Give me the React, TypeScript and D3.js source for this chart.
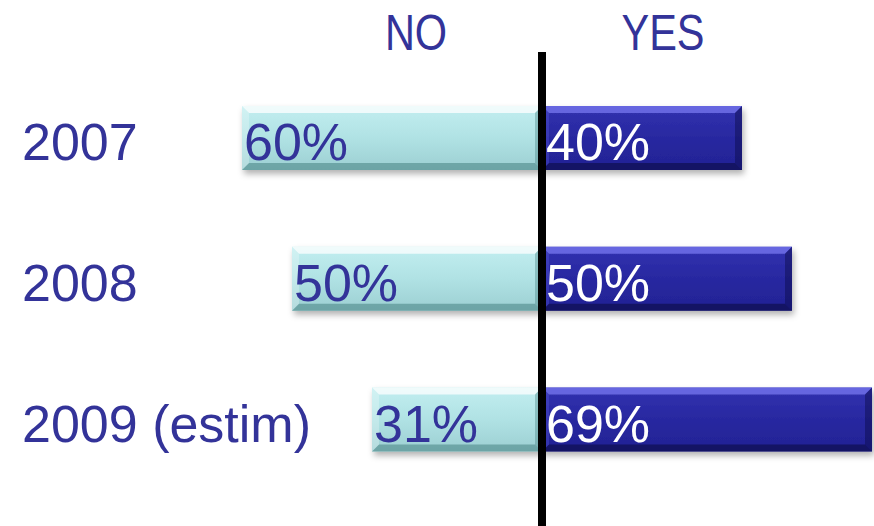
import React from "react";
import * as d3 from "d3";

const years = ["2007", "2008", "2009 (estim)"];
const noValues = [60, 50, 34];
const yesValues = [40, 50, 66];
const noLabels = ["60%", "50%", "31%"];
const yesLabels = ["40%", "50%", "69%"];
const headers = ["NO", "YES"];

const W = 874;
const H = 526;
const CX = 542;
const BAR_H = 64;
const TEXT = "#333399";

function Bevel({ x, w, y, h, kind }: { x: number; w: number; y: number; h: number; kind: "light" | "dark" }) {
  const b = 7;
  const light = kind === "light";
  const top = light ? "rgba(255,255,255,0.75)" : "rgba(120,120,240,0.75)";
  const bottom = light ? "rgba(70,130,130,0.55)" : "rgba(10,10,60,0.55)";
  const side = light ? "rgba(255,255,255,0.25)" : "rgba(90,90,220,0.35)";
  const sideR = light ? "rgba(60,120,120,0.35)" : "rgba(10,10,70,0.45)";
  return (
    <g>
      <rect x={x} y={y} width={w} height={h} fill={`url(#grad-${kind})`} filter="url(#shadow)" />
      <polygon points={`${x},${y} ${x + w},${y} ${x + w - b},${y + b} ${x + b},${y + b}`} fill={top} />
      <polygon points={`${x},${y + h} ${x + w},${y + h} ${x + w - b},${y + h - b} ${x + b},${y + h - b}`} fill={bottom} />
      <polygon points={`${x},${y} ${x + b},${y + b} ${x + b},${y + h - b} ${x},${y + h}`} fill={side} />
      <polygon points={`${x + w},${y} ${x + w - b},${y + b} ${x + w - b},${y + h - b} ${x + w},${y + h}`} fill={sideR} />
    </g>
  );
}

export default function App() {
  const len = d3.scaleLinear().domain([0, 100]).range([0, 500]);
  const yPos = d3.scalePoint<string>().domain(years).range([138, 419.5]);
  const font = "'Liberation Sans', Arial, sans-serif";

  return (
    <svg width={W} height={H} style={{ position: "absolute", left: 0, top: 0 }} fontFamily={font}>
      <defs>
        <linearGradient id="grad-light" x1="0" y1="0" x2="0" y2="1">
          <stop offset="0" stopColor="#c2eef0" />
          <stop offset="0.5" stopColor="#b0e2e4" />
          <stop offset="1" stopColor="#9ccfd2" />
        </linearGradient>
        <linearGradient id="grad-dark" x1="0" y1="0" x2="0" y2="1">
          <stop offset="0" stopColor="#3232b0" />
          <stop offset="0.5" stopColor="#2828a0" />
          <stop offset="1" stopColor="#222294" />
        </linearGradient>
        <filter id="shadow" x="-5%" y="-20%" width="110%" height="160%">
          <feDropShadow dx="2" dy="4" stdDeviation="3" floodColor="#000" floodOpacity="0.3" />
        </filter>
      </defs>
      <rect width={W} height={H} fill="#fff" />

      {headers.map((h, i) => {
        const cx = i === 0 ? 416 : 663;
        return (
          <text key={h} transform={`translate(${cx},50) scale(0.83,1)`} textAnchor="middle" fontSize={50} fill={TEXT}>
            {h}
          </text>
        );
      })}

      {years.map((yr, i) => {
        const cy = yPos(yr)!;
        const y0 = cy - BAR_H / 2;
        const nw = len(noValues[i]);
        const yw = len(yesValues[i]);
        return (
          <g key={yr}>
            <text x={22} y={cy + 22} fontSize={52} fill={TEXT}>
              {yr}
            </text>
            <Bevel x={CX - nw} w={nw} y={y0} h={BAR_H} kind="light" />
            <Bevel x={CX} w={yw} y={y0} h={BAR_H} kind="dark" />
            <text x={CX - nw + 2} y={cy + 22} fontSize={52} fill={TEXT}>
              {noLabels[i]}
            </text>
            <text x={CX + 4} y={cy + 22} fontSize={52} fill="#fff">
              {yesLabels[i]}
            </text>
          </g>
        );
      })}

      <line x1={CX} x2={CX} y1={52} y2={H} stroke="#000" strokeWidth={8} />
    </svg>
  );
}
